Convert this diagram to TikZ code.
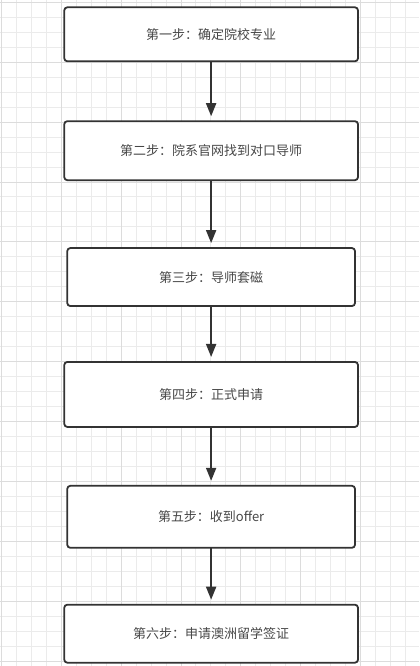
\documentclass[tikz,border=0pt]{standalone}
\usepackage{fontspec}
\newfontfamily\cjk{Noto Sans CJK SC}
\usepackage{tikz}
\usetikzlibrary{positioning}
\usetikzlibrary{arrows.meta}

\definecolor{linegray}{HTML}{333333}
\definecolor{minorgray}{HTML}{EBEBEB}
\definecolor{majorgray}{HTML}{DCDCDC}

\begin{document}
\begin{tikzpicture}[
  x=1pt,y=-1pt,
  stepbox/.style={draw=linegray,line width=1.8pt,rounded corners=3pt,fill=white,
    minimum width=#1,inner sep=0pt,outer sep=0pt,align=center,text=linegray!90,
    font=\cjk\fontsize{13}{15}\selectfont},
  stepbox/.default=294pt,
  steparrow/.style={draw=linegray,line width=1.8pt,
    -{Triangle[length=13pt,width=10pt]},shorten >=5pt}
]

% background grid
\fill[white] (0,0) rectangle (419,666);
\foreach \x in {0.7,15.7,...,418} \draw[minorgray,line width=0.7pt] (\x,0) -- (\x,666);
\foreach \y in {1.7,16.7,...,665} \draw[minorgray,line width=0.7pt] (0,\y) -- (419,\y);
\foreach \x in {0.7,60.7,...,418} \draw[majorgray,line width=0.7pt] (\x,0) -- (\x,666);
\foreach \y in {1.7,61.7,...,665} \draw[majorgray,line width=0.7pt] (0,\y) -- (419,\y);
\useasboundingbox (0,0) rectangle (419,666);

\node[stepbox,minimum height=54pt] (1) at (211,34) {第一步：确定院校专业};
\node[stepbox,minimum height=59pt,below=60pt of 1] (2) {第二步：院系官网找到对口导师};
\node[stepbox=288pt,minimum height=58pt,below=68pt of 2] (3) {第三步：导师套磁};
\node[stepbox,minimum height=65pt,below=56pt of 3] (4) {第四步：正式申请};
\node[stepbox=288pt,minimum height=62pt,below=59pt of 4] (5) {第五步：收到offer};
\node[stepbox,minimum height=58pt,below=57pt of 5] (6) {第六步：申请澳洲留学签证};

\draw[steparrow] (1) -- (2);
\draw[steparrow] (2) -- (3);
\draw[steparrow] (3) -- (4);
\draw[steparrow] (4) -- (5);
\draw[steparrow] (5) -- (6);
\end{tikzpicture}
\end{document}
